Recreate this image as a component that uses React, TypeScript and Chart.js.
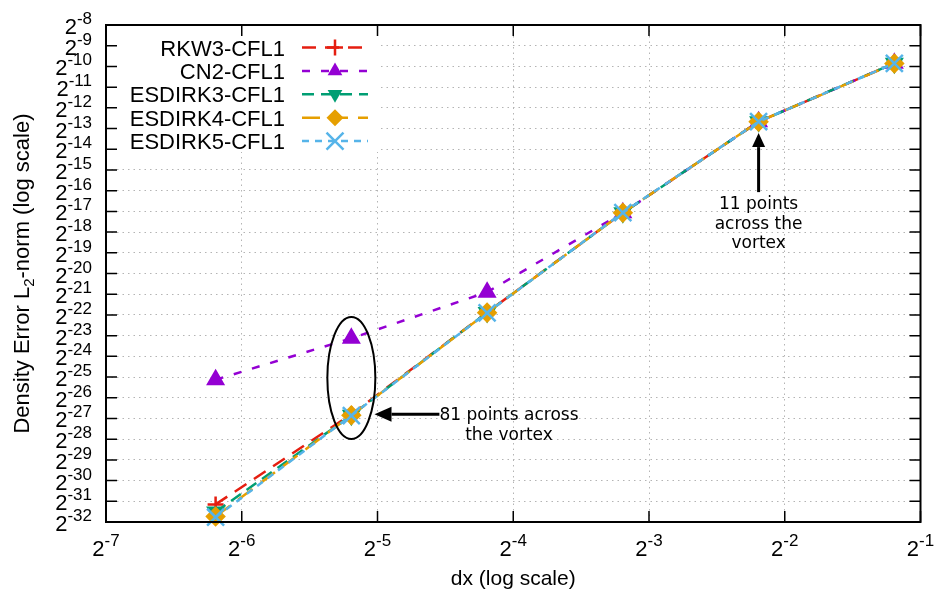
import React, { useEffect, useRef } from 'react';
import { Chart, registerables } from 'chart.js';

Chart.register(...registerables);

// ---------------- data ----------------
// grid spacing dx, and the density error given as base-2 exponents (value = 2^exp)
const dxValues = [0.013671875, 0.02734375, 0.0546875, 0.109375, 0.21875, 0.4375];
const seriesLabels = ['RKW3-CFL1', 'CN2-CFL1', 'ESDIRK3-CFL1', 'ESDIRK4-CFL1', 'ESDIRK5-CFL1'];
const rkw3Log2Err = [-31.15, -26.8, -21.88, -17.07, -12.67, -9.85];
const cn2Log2Err = [-25.13, -23.13, -20.9, -17.07, -12.67, -9.85];
const esdirk3Log2Err = [-31.52, -26.85, -21.88, -17.07, -12.67, -9.85];
const esdirk4Log2Err = [-31.73, -26.85, -21.89, -17.07, -12.67, -9.86];
const esdirk5Log2Err = [-31.77, -26.86, -21.9, -17.06, -12.67, -9.85];
const xTickExponents = [-7, -6, -5, -4, -3, -2, -1];
const yTickExponents = [-8, -9, -10, -11, -12, -13, -14, -15, -16, -17, -18, -19, -20, -21, -22, -23, -24, -25, -26, -27, -28, -29, -30, -31, -32];
const xTitle = 'dx (log scale)';
const yTitleParts = ['Density Error L', '2', '-norm (log scale)'];
const note81 = ['81 points across', 'the vortex'];
const note11 = ['11 points', 'across the', 'vortex'];

// ---------------- styles ----------------
const seriesStyles = [
  { color: '#e51e10', dash: [14, 9], point: 'cross', radius: 8, rotation: 0, fill: false },
  { color: '#9400d3', dash: [8, 11], point: 'triangle', radius: 8.5, rotation: 0, fill: true },
  { color: '#009e73', dash: [12, 7], point: 'triangle', radius: 8.5, rotation: 180, fill: true },
  { color: '#e69f00', dash: [18, 10], point: 'rectRot', radius: 8.5, rotation: 0, fill: true },
  { color: '#56b4e9', dash: [7, 6], point: 'crossRot', radius: 12, rotation: 0, fill: false },
];
const seriesLog2 = [rkw3Log2Err, cn2Log2Err, esdirk3Log2Err, esdirk4Log2Err, esdirk5Log2Err];

const W = 935;
const H = 595;
const SANS = '"Liberation Sans", Arial, Helvetica, sans-serif';
const DEJAVU = '"DejaVu Sans", sans-serif';
const TICK_FONT = 22;
const SUP_FONT = 17;
const SUP_RAISE = 10;

function drawMarker(ctx: CanvasRenderingContext2D, st: any, x: number, y: number) {
  const r = st.radius;
  ctx.save();
  ctx.strokeStyle = st.color;
  ctx.fillStyle = st.color;
  ctx.lineWidth = 2.5;
  ctx.setLineDash([]);
  ctx.beginPath();
  if (st.point === 'cross') {
    ctx.moveTo(x - r, y); ctx.lineTo(x + r, y);
    ctx.moveTo(x, y - r); ctx.lineTo(x, y + r);
    ctx.stroke();
  } else if (st.point === 'crossRot') {
    const d = r * Math.SQRT1_2;
    ctx.moveTo(x - d, y - d); ctx.lineTo(x + d, y + d);
    ctx.moveTo(x - d, y + d); ctx.lineTo(x + d, y - d);
    ctx.stroke();
  } else if (st.point === 'triangle') {
    let rad = (st.rotation * Math.PI) / 180;
    ctx.moveTo(x + Math.sin(rad) * r, y - Math.cos(rad) * r);
    rad += (2 * Math.PI) / 3;
    ctx.lineTo(x + Math.sin(rad) * r, y - Math.cos(rad) * r);
    rad += (2 * Math.PI) / 3;
    ctx.lineTo(x + Math.sin(rad) * r, y - Math.cos(rad) * r);
    ctx.closePath();
    ctx.fill();
  } else if (st.point === 'rectRot') {
    ctx.moveTo(x - r, y); ctx.lineTo(x, y - r); ctx.lineTo(x + r, y); ctx.lineTo(x, y + r);
    ctx.closePath();
    ctx.fill();
  }
  ctx.restore();
}

function drawPow2(ctx: CanvasRenderingContext2D, exp: number, x: number, baseline: number, align: 'right' | 'center') {
  ctx.save();
  ctx.fillStyle = '#000';
  ctx.textAlign = 'left';
  ctx.textBaseline = 'alphabetic';
  ctx.font = `${TICK_FONT}px ${SANS}`;
  const wBase = ctx.measureText('2').width;
  ctx.font = `${SUP_FONT}px ${SANS}`;
  const expStr = String(exp);
  const wExp = ctx.measureText(expStr).width;
  const total = wBase + wExp;
  const left = align === 'right' ? x - total : x - total / 2;
  ctx.font = `${TICK_FONT}px ${SANS}`;
  ctx.fillText('2', left, baseline);
  ctx.font = `${SUP_FONT}px ${SANS}`;
  ctx.fillText(expStr, left + wBase, baseline - SUP_RAISE);
  ctx.restore();
}

function arrow(ctx: CanvasRenderingContext2D, x1: number, y1: number, x2: number, y2: number, headLen: number, headHalf: number) {
  const ang = Math.atan2(y2 - y1, x2 - x1);
  const bx = x2 - Math.cos(ang) * headLen;
  const by = y2 - Math.sin(ang) * headLen;
  ctx.save();
  ctx.strokeStyle = '#000';
  ctx.fillStyle = '#000';
  ctx.lineWidth = 3;
  ctx.setLineDash([]);
  ctx.beginPath();
  ctx.moveTo(x1, y1);
  ctx.lineTo(bx, by);
  ctx.stroke();
  ctx.beginPath();
  ctx.moveTo(x2, y2);
  ctx.lineTo(bx - Math.sin(ang) * headHalf, by + Math.cos(ang) * headHalf);
  ctx.lineTo(bx + Math.sin(ang) * headHalf, by - Math.cos(ang) * headHalf);
  ctx.closePath();
  ctx.fill();
  ctx.restore();
}

const decorPlugin = {
  id: 'gnuplotDecor',
  beforeDatasetsDraw(chart: any) {
    const { ctx, chartArea: a } = chart;
    // opaque key box
    ctx.save();
    ctx.fillStyle = '#fff';
    ctx.fillRect(a.left + 1, a.top + 1, 274, 126);
    ctx.restore();
  },
  afterDatasetsDraw(chart: any) {
    const { ctx, chartArea: a, scales } = chart;
    const xs = scales.x;
    const ys = scales.y;

    // border
    ctx.save();
    ctx.strokeStyle = '#000';
    ctx.lineWidth = 2;
    ctx.setLineDash([]);
    ctx.strokeRect(a.left, a.top, a.right - a.left, a.bottom - a.top);
    // ticks inward on all sides
    ctx.lineWidth = 1.5;
    ctx.beginPath();
    const tl = 11;
    for (const e of yTickExponents) {
      const y = ys.getPixelForValue(2 ** e);
      ctx.moveTo(a.left, y); ctx.lineTo(a.left + tl, y);
      ctx.moveTo(a.right, y); ctx.lineTo(a.right - tl, y);
    }
    for (const e of xTickExponents) {
      const x = xs.getPixelForValue(2 ** e);
      ctx.moveTo(x, a.bottom); ctx.lineTo(x, a.bottom - tl);
      ctx.moveTo(x, a.top); ctx.lineTo(x, a.top + tl);
    }
    ctx.stroke();
    ctx.restore();

    // tick labels
    for (const e of yTickExponents) {
      const y = ys.getPixelForValue(2 ** e);
      drawPow2(ctx, e, a.left - 14, y + 9, 'right');
    }
    for (const e of xTickExponents) {
      const x = xs.getPixelForValue(2 ** e);
      drawPow2(ctx, e, x, a.bottom + 34, 'center');
    }

    // axis titles
    ctx.save();
    ctx.fillStyle = '#000';
    ctx.textBaseline = 'alphabetic';
    ctx.font = `21px ${SANS}`;
    ctx.textAlign = 'center';
    ctx.fillText(xTitle, (a.left + a.right) / 2, 585);
    ctx.translate(29, (a.top + a.bottom) / 2);
    ctx.rotate(-Math.PI / 2);
    ctx.textAlign = 'left';
    const bigF = `22px ${SANS}`;
    const subF = `15px ${SANS}`;
    ctx.font = bigF;
    const w0 = ctx.measureText(yTitleParts[0]).width;
    const w2 = ctx.measureText(yTitleParts[2]).width;
    ctx.font = subF;
    const w1 = ctx.measureText(yTitleParts[1]).width;
    let cx = -(w0 + w1 + w2) / 2;
    ctx.font = bigF;
    ctx.fillText(yTitleParts[0], cx, 0);
    cx += w0;
    ctx.font = subF;
    ctx.fillText(yTitleParts[1], cx, 5);
    cx += w1;
    ctx.font = bigF;
    ctx.fillText(yTitleParts[2], cx, 0);
    ctx.restore();

    // key
    const textRight = a.left + 179;
    const lineStart = a.left + 196;
    const lineEnd = a.left + 262;
    chart.data.datasets.forEach((ds: any, i: number) => {
      const st = seriesStyles[i];
      const rowY = a.top + 22.5 + i * 23.4;
      ctx.save();
      ctx.fillStyle = '#000';
      ctx.font = `22px ${SANS}`;
      ctx.textAlign = 'right';
      ctx.textBaseline = 'alphabetic';
      ctx.fillText(ds.label, textRight, rowY + 8);
      ctx.strokeStyle = st.color;
      ctx.lineWidth = 2.5;
      ctx.setLineDash(st.dash);
      ctx.beginPath();
      ctx.moveTo(lineStart, rowY);
      ctx.lineTo(lineEnd, rowY);
      ctx.stroke();
      ctx.restore();
      drawMarker(ctx, st, (lineStart + lineEnd) / 2, rowY);
    });

    // annotation: ellipse around the 81-point resolution
    const ex = xs.getPixelForValue(dxValues[1]);
    const ey = ys.getPixelForValue(2 ** -25.05);
    ctx.save();
    ctx.strokeStyle = '#000';
    ctx.lineWidth = 2;
    ctx.setLineDash([]);
    ctx.beginPath();
    ctx.ellipse(ex, ey, 24, 61, 0, 0, Math.PI * 2);
    ctx.stroke();
    ctx.restore();

    // arrow + text: 81 points
    const tipX = xs.getPixelForValue(2 ** -5.022);
    const tailX = xs.getPixelForValue(2 ** -4.544);
    const arY = ys.getPixelForValue(2 ** -26.8);
    arrow(ctx, tailX, arY, tipX, arY, 17, 7.5);
    ctx.save();
    ctx.fillStyle = '#000';
    ctx.font = `17px ${DEJAVU}`;
    ctx.textBaseline = 'alphabetic';
    ctx.textAlign = 'left';
    const w81 = ctx.measureText(note81[0]).width;
    ctx.fillText(note81[0], tailX, arY + 6);
    ctx.textAlign = 'center';
    ctx.fillText(note81[1], tailX + w81 / 2, arY + 26);
    ctx.restore();

    // arrow + text: 11 points
    const ax = xs.getPixelForValue(dxValues[4]);
    const aTip = ys.getPixelForValue(2 ** -13.22);
    const aTail = ys.getPixelForValue(2 ** -16.07);
    arrow(ctx, ax, aTail, ax, aTip, 14, 6.5);
    ctx.save();
    ctx.fillStyle = '#000';
    ctx.font = `17px ${DEJAVU}`;
    ctx.textBaseline = 'alphabetic';
    ctx.textAlign = 'center';
    note11.forEach((t, k) => ctx.fillText(t, ax, aTail + 17 + k * 19.5));
    ctx.restore();
  },
};

export default function App() {
  const ref = useRef<HTMLCanvasElement | null>(null);
  useEffect(() => {
    document.body.style.margin = '0';
    const canvas = ref.current;
    if (!canvas) return;
    const datasets = seriesLabels.map((label, i) => {
      const st = seriesStyles[i];
      return {
        label,
        data: dxValues.map((dx, k) => ({ x: dx, y: 2 ** seriesLog2[i][k] })),
        borderColor: st.color,
        backgroundColor: st.color,
        borderWidth: 2.5,
        borderDash: st.dash,
        pointStyle: st.point,
        pointRadius: st.radius,
        pointRotation: st.rotation,
        pointBorderWidth: 2.5,
        pointBackgroundColor: st.color,
        pointBorderColor: st.color,
        pointHoverRadius: st.radius,
        tension: 0,
        fill: false,
        clip: false,
        order: seriesLabels.length - i,
      };
    });
    const gridOpts = { color: '#b4b4b4', lineWidth: 1, drawTicks: false };
    const chart = new Chart(canvas, {
      type: 'line',
      data: { datasets },
      plugins: [decorPlugin],
      options: {
        responsive: false,
        animation: false,
        events: [],
        layout: { padding: { left: 106, top: 25, right: 14, bottom: 73 } },
        plugins: { legend: { display: false }, tooltip: { enabled: false }, title: { display: false } },
        scales: {
          x: {
            type: 'logarithmic',
            min: 2 ** -7,
            max: 2 ** -1,
            grid: gridOpts,
            border: { display: false, dash: [1.5, 4] },
            ticks: { display: false },
            afterBuildTicks: (scale: any) => {
              scale.ticks = xTickExponents.map((e) => ({ value: 2 ** e }));
            },
          },
          y: {
            type: 'logarithmic',
            min: 2 ** -32,
            max: 2 ** -8,
            grid: gridOpts,
            border: { display: false, dash: [1.5, 4] },
            ticks: { display: false },
            afterBuildTicks: (scale: any) => {
              scale.ticks = yTickExponents.map((e) => ({ value: 2 ** e }));
            },
          },
        },
      } as any,
    });
    return () => chart.destroy();
  }, []);
  return (
    <div style={{ position: 'fixed', left: 0, top: 0, width: W, height: H, background: '#fff' }}>
      <canvas ref={ref} width={W} height={H} style={{ display: 'block', width: W, height: H }} />
    </div>
  );
}
